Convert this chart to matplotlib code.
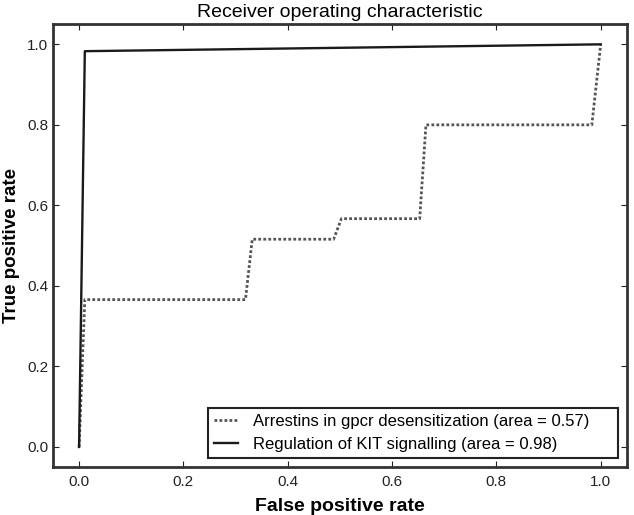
import matplotlib
matplotlib.use("Agg")
import matplotlib.pyplot as plt

plt.rcParams["font.family"] = ["Liberation Sans", "DejaVu Sans"]

# ROC curve points
fpr_arrestins = [0.0, 0.011, 0.319, 0.332, 0.488, 0.503, 0.653, 0.665, 0.983, 1.0]
tpr_arrestins = [0.0, 0.366, 0.366, 0.516, 0.516, 0.567, 0.567, 0.800, 0.800, 1.0]
label_arrestins = "Arrestins in gpcr desensitization (area = 0.57)"

fpr_kit = [0.0, 0.011, 1.0]
tpr_kit = [0.0, 0.983, 1.0]
label_kit = "Regulation of KIT signalling (area = 0.98)"

ticks = [0.0, 0.2, 0.4, 0.6, 0.8, 1.0]

fig = plt.figure(figsize=(6.34, 5.15), dpi=100)
ax = fig.add_axes([0.0836, 0.093, 0.905, 0.860])

ax.plot(fpr_arrestins, tpr_arrestins, ls=(0, (1, 0.8)), lw=2.0, color="#555555",
        label=label_arrestins)
ax.plot(fpr_kit, tpr_kit, ls="-", lw=1.7, color="#1a1a1a", label=label_kit)

ax.set_xlim(-0.05, 1.05)
ax.set_ylim(-0.05, 1.05)
ax.set_xticks(ticks)
ax.set_yticks(ticks)
ax.set_xticklabels([f"{t:.1f}" for t in ticks])
ax.set_yticklabels([f"{t:.1f}" for t in ticks])
ax.tick_params(direction="in", top=True, right=True, length=4, width=0.8,
               labelsize=11, colors="#222222")
ax.tick_params(axis="x", pad=6)
ax.tick_params(axis="y", pad=3.6)

for sp in ax.spines.values():
    sp.set_linewidth(2.0)
    sp.set_color("#333333")

ax.set_title("Receiver operating characteristic", fontsize=14, pad=5)
ax.set_xlabel("False positive rate", fontsize=14, fontweight="bold", labelpad=6)
ax.set_ylabel("True positive rate", fontsize=13.5, fontweight="bold", labelpad=5)

# legend box stretched to the width it has in the reference
leg = ax.legend(loc="lower left", bbox_to_anchor=(0.270, 0.0205, 0.715, 0.108),
                mode="expand", borderaxespad=0, fontsize=12, fancybox=False,
                framealpha=1, handlelength=1.45, handletextpad=0.9,
                labelspacing=0.45, borderpad=0.38)
leg.get_frame().set_edgecolor("#222222")
leg.get_frame().set_linewidth(1.5)

fig.savefig("out.png", dpi=100)
